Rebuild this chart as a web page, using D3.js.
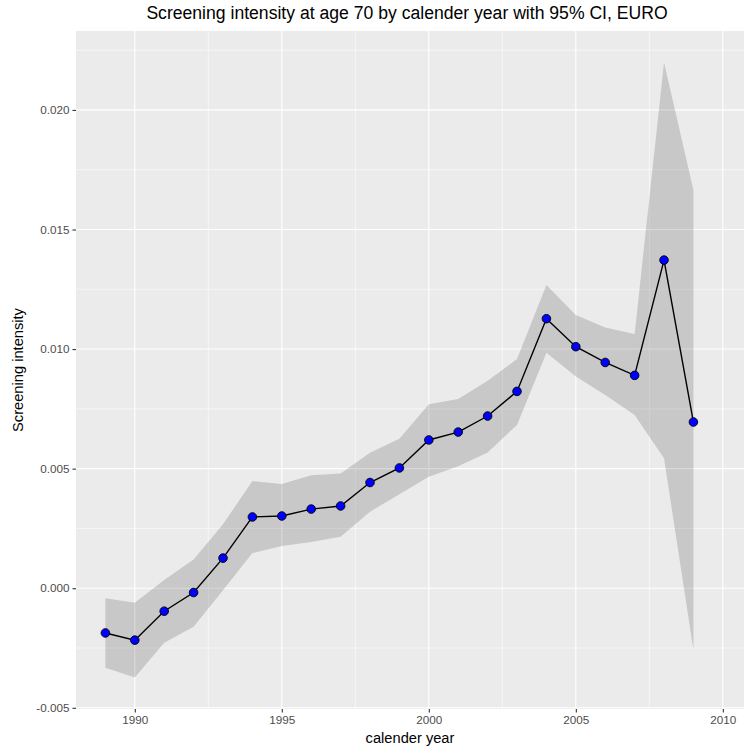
<!DOCTYPE html>
<html>
<head>
<meta charset="utf-8">
<script src="https://cdn.jsdelivr.net/npm/d3@7"></script>
<style>
  html, body { margin: 0; padding: 0; background: #fff; }
  svg { display: block; font-family: "Liberation Sans", Arial, sans-serif; }
</style>
</head>
<body>
<svg id="chart" width="744" height="746"></svg>
<script>
// Calendar years and screening intensity estimates at age 70
const years = [1989, 1990, 1991, 1992, 1993, 1994, 1995, 1996, 1997, 1998, 1999,
               2000, 2001, 2002, 2003, 2004, 2005, 2006, 2007, 2008, 2009];
const intensity = [-0.00187, -0.00217, -0.00096, -0.00018, 0.00126, 0.00298, 0.00302,
                   0.00331, 0.00344, 0.00442, 0.00503, 0.00620, 0.00653, 0.00720,
                   0.00823, 0.01127, 0.01010, 0.00944, 0.00890, 0.01372, 0.00695];
// 95% confidence bounds
const lower = [-0.00333, -0.00373, -0.00228, -0.00161, -0.00008, 0.00147, 0.00177,
               0.00193, 0.00215, 0.00320, 0.00393, 0.00466, 0.00510, 0.00568,
               0.00683, 0.00985, 0.00885, 0.00808, 0.00724, 0.00543, -0.00258];
const upper = [-0.00042, -0.00061, 0.00034, 0.00120, 0.00268, 0.00448, 0.00436,
               0.00472, 0.00480, 0.00567, 0.00625, 0.00769, 0.00791, 0.00868,
               0.00958, 0.01268, 0.01143, 0.01090, 0.01063, 0.02198, 0.01665];

const xTicks = [1990, 1995, 2000, 2005, 2010];
const xMinor = [1992.5, 1997.5, 2002.5, 2007.5];
const yTicks = [-0.005, 0.000, 0.005, 0.010, 0.015, 0.020];
const yMinor = [-0.0025, 0.0025, 0.0075, 0.0125, 0.0175, 0.0225];

const titleText = "Screening intensity at age 70 by calender year with 95% CI, EURO";
const xTitle = "calender year";
const yTitle = "Screening intensity";

const rows = years.map((yr, i) => ({ year: yr, v: intensity[i], lo: lower[i], hi: upper[i] }));

const svg = d3.select("#chart");
const panel = { left: 76, right: 744, top: 31, bottom: 709 };

const x = d3.scaleLinear().domain([1988, 2010.72]).range([panel.left, panel.right]);
const y = d3.scaleLinear().domain([-0.00505, 0.0233]).range([panel.bottom, panel.top]);

// Panel background
svg.append("rect")
  .attr("x", panel.left).attr("y", panel.top)
  .attr("width", panel.right - panel.left).attr("height", panel.bottom - panel.top)
  .attr("fill", "#EBEBEB");

const grid = svg.append("g");
// Minor grid
grid.selectAll(".ymin").data(yMinor).join("line")
  .attr("x1", panel.left).attr("x2", panel.right)
  .attr("y1", d => y(d)).attr("y2", d => y(d))
  .attr("stroke", "#fff").attr("stroke-width", 0.55);
grid.selectAll(".xmin").data(xMinor).join("line")
  .attr("y1", panel.top).attr("y2", panel.bottom)
  .attr("x1", d => x(d)).attr("x2", d => x(d))
  .attr("stroke", "#fff").attr("stroke-width", 0.55);
// Major grid
grid.selectAll(".ymaj").data(yTicks).join("line")
  .attr("x1", panel.left).attr("x2", panel.right)
  .attr("y1", d => y(d)).attr("y2", d => y(d))
  .attr("stroke", "#fff").attr("stroke-width", 1.1);
grid.selectAll(".xmaj").data(xTicks).join("line")
  .attr("y1", panel.top).attr("y2", panel.bottom)
  .attr("x1", d => x(d)).attr("x2", d => x(d))
  .attr("stroke", "#fff").attr("stroke-width", 1.1);

// Confidence ribbon
const area = d3.area()
  .x(d => x(d.year))
  .y0(d => y(d.lo))
  .y1(d => y(d.hi));
svg.append("path").datum(rows)
  .attr("d", area)
  .attr("fill", "#000").attr("fill-opacity", 0.15);

// Estimate line
const line = d3.line().x(d => x(d.year)).y(d => y(d.v));
svg.append("path").datum(rows)
  .attr("d", line)
  .attr("fill", "none").attr("stroke", "#000").attr("stroke-width", 1.4);

// Points
svg.append("g").selectAll("circle").data(rows).join("circle")
  .attr("cx", d => x(d.year)).attr("cy", d => y(d.v))
  .attr("r", 4.3)
  .attr("fill", "#0000FF").attr("stroke", "#000").attr("stroke-width", 0.9);

// Axes
const xAxis = d3.axisBottom(x).tickValues(xTicks).tickSize(3.5).tickPadding(3).tickFormat(d3.format("d"));
const gx = svg.append("g").attr("transform", `translate(0,${panel.bottom})`).call(xAxis);
const yAxis = d3.axisLeft(y).tickValues(yTicks).tickSize(3.5).tickPadding(3).tickFormat(d3.format(".3f"));
const gy = svg.append("g").attr("transform", `translate(${panel.left},0)`).call(yAxis);
[gx, gy].forEach(g => {
  g.select(".domain").remove();
  g.selectAll(".tick line").attr("stroke", "#333").attr("stroke-width", 1.1);
  g.selectAll(".tick text").attr("fill", "#4D4D4D")
    .style("font-size", "11.7px").style("font-family", "'Liberation Sans', Arial, sans-serif");
});
gy.selectAll(".tick text").text(d => d3.format(".3f")(d).replace("−", "-"));

// Titles
svg.append("text")
  .attr("x", 407).attr("y", 19)
  .attr("text-anchor", "middle")
  .style("font-size", "17.6px").attr("fill", "#000")
  .text(titleText);
svg.append("text")
  .attr("x", 410).attr("y", 743)
  .attr("text-anchor", "middle")
  .style("font-size", "14.67px").attr("fill", "#000")
  .text(xTitle);
svg.append("text")
  .attr("transform", `translate(23,${(panel.top + panel.bottom) / 2}) rotate(-90)`)
  .attr("text-anchor", "middle")
  .style("font-size", "14.67px").attr("fill", "#000")
  .text(yTitle);
</script>
</body>
</html>
